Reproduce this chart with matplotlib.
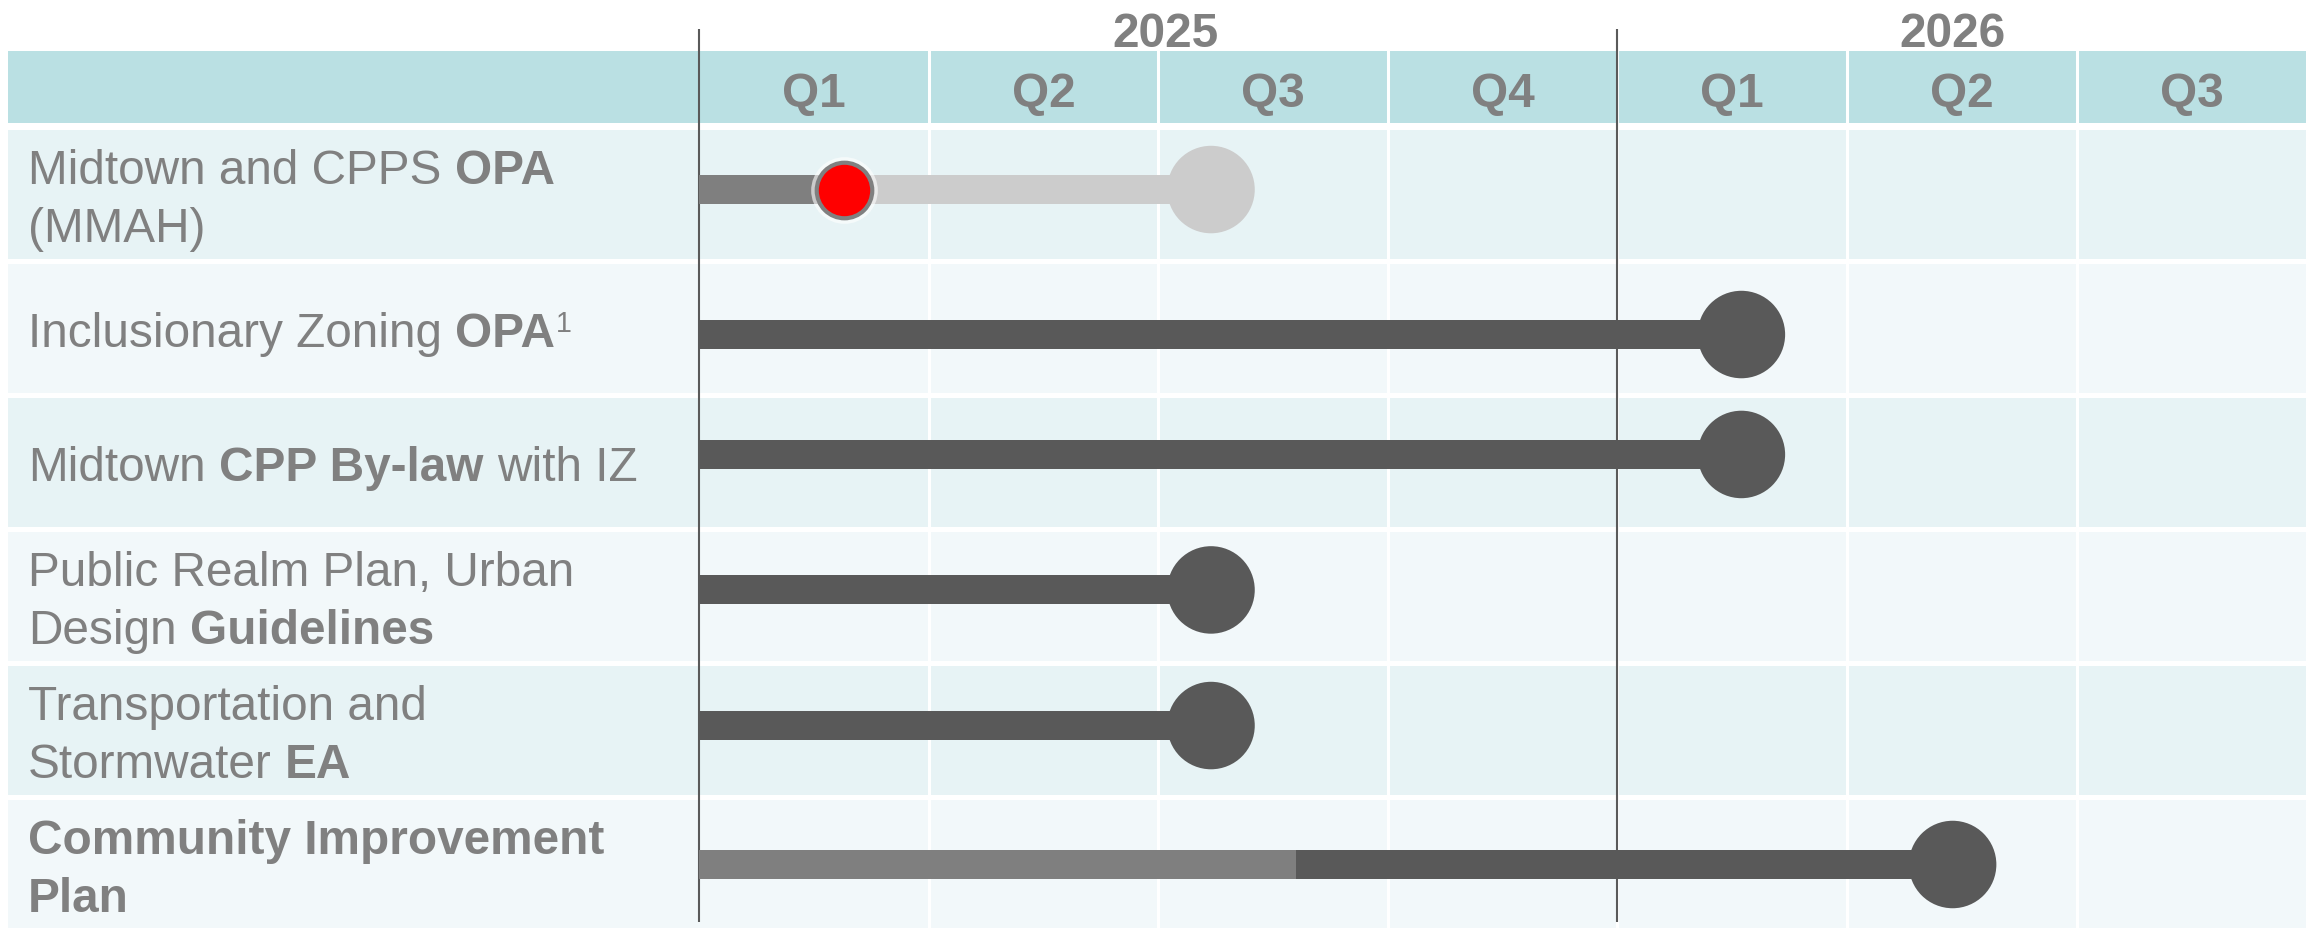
import matplotlib.pyplot as plt
from matplotlib.patches import Rectangle

plt.rcParams["font.family"] = ["Liberation Sans", "DejaVu Sans"]

# ---------------------------------------------------------------------------
# Data (x in quarters counted from the start of 2025 Q1, y = row index)
# ---------------------------------------------------------------------------

quarter_labels = ["Q1", "Q2", "Q3", "Q4", "Q1", "Q2", "Q3"]
year_labels = ["2025", "2026"]
year_label_x = [2.03, 5.46]
year_breaks = [0, 4]

# each row label: list of lines, each line a list of (text, style) pieces
row_labels = [
    [[("Midtown and CPPS", "normal"), (" OPA", "bold")], [("(MMAH)", "normal")]],
    [[("Inclusionary Zoning", "normal"), (" OPA", "bold"), ("1", "sup")]],
    [[("Midtown", "normal"), (" CPP By-law", "bold"), (" with IZ", "normal")]],
    [[("Public Realm Plan, Urban", "normal")],
     [("Design", "normal"), (" Guidelines", "bold")]],
    [[("Transportation and", "normal")],
     [("Stormwater", "normal"), (" EA", "bold")]],
    [[("Community Improvement", "bold")], [("Plan", "bold")]],
]

# vertical position of each row's timeline (rows are not perfectly centred)
track_y = [-0.037, 1.045, 1.94, 2.951, 3.963, 5.0]

# bar segments
seg_row = [0, 0, 1, 2, 3, 4, 5, 5]
seg_start = [0.0, 0.63, 0.0, 0.0, 0.0, 0.0, 0.0, 2.60]
seg_end = [0.63, 2.23, 4.54, 4.54, 2.23, 2.23, 2.60, 5.46]
seg_kind = ["done", "pending", "active", "active", "active", "active", "done", "active"]

# end milestones
end_row = [0, 1, 2, 3, 4, 5]
end_x = [2.23, 4.54, 4.54, 2.23, 2.23, 5.46]
end_kind = ["pending", "active", "active", "active", "active", "active"]

# current position marker
now_row = 0
now_x = 0.63

COLORS = {"done": "#7f7f7f", "pending": "#cccccc", "active": "#595959"}
TEXT = "#808080"
HEADER_BG = "#bae0e3"
ROW_BG = ["#e7f3f5", "#f2f8fa"]

FS = 34.4
SPACE_PX = 0.278 * FS * 100 / 72


def draw_line(ax, x, y, pieces):
    prev = None
    for s, style in pieces:
        weight = "bold" if style == "bold" else "normal"
        gap = SPACE_PX if s.startswith(" ") else 1
        s = s.strip()
        if prev is None:
            prev = ax.text(x, y, s, fontsize=FS, color=TEXT, fontweight=weight,
                           ha="left", va="baseline")
        elif style == "sup":
            prev = ax.annotate(s, xy=(1, y), xycoords=(prev, "data"),
                               xytext=(0, 15), textcoords="offset pixels",
                               fontsize=FS * 0.6, color=TEXT,
                               ha="left", va="baseline")
        else:
            prev = ax.annotate(s, xy=(1, y), xycoords=(prev, "data"),
                               xytext=(gap, 0), textcoords="offset pixels",
                               fontsize=FS, color=TEXT, fontweight=weight,
                               ha="left", va="baseline")


fig = plt.figure(figsize=(23.13, 9.29), dpi=100)
ax = fig.add_axes([0, 0, 1, 1])
ax.set_xlim(-699 / 229.6, (2313 - 699) / 229.6)
ax.set_ylim((929 - 195.5) / 134, -195.5 / 134)
ax.axis("off")

n_q = len(quarter_labels)
left = -3.01
half = 0.485

# header band
ax.add_patch(Rectangle((left, -1.071), n_q - left, 0.537, color=HEADER_BG, lw=0, zorder=0))
# row bands
for i in range(len(row_labels)):
    ax.add_patch(Rectangle((left, i - half), n_q - left, 2 * half,
                           color=ROW_BG[i % 2], lw=0, zorder=0))

# white column separators
ax.vlines(range(1, n_q), -1.1, 5.5, color="white", lw=2.2, zorder=1)

# year boundaries
ax.vlines(year_breaks, -1.235, 5.43, color="#5a5a5a", lw=1.5, zorder=2)

# header text
for i, q in enumerate(quarter_labels):
    ax.text(i + 0.5, -0.66, q, fontsize=FS, fontweight="bold", color=TEXT,
            ha="center", va="baseline", zorder=3)
for x, yl in zip(year_label_x, year_labels):
    ax.text(x, -1.108, yl, fontsize=FS, fontweight="bold", color=TEXT,
            ha="center", va="baseline", zorder=3)

# row labels
for i, lines in enumerate(row_labels):
    if len(lines) == 1:
        baselines = [i + 0.13]
    else:
        baselines = [i - 0.086, i + 0.347]
    for yb, pieces in zip(baselines, lines):
        draw_line(ax, -2.922, yb, pieces)

# bars
for r, s, e, k in zip(seg_row, seg_start, seg_end, seg_kind):
    ax.barh(track_y[r], e - s, left=s, height=0.216, color=COLORS[k], lw=0, zorder=4)

# milestones
ax.scatter(end_x, [track_y[r] for r in end_row], s=63 ** 2,
           c=[COLORS[k] for k in end_kind], linewidths=0, zorder=5)

# current position
ax.scatter([now_x], [track_y[now_row]], s=48 ** 2, c="white", alpha=0.6,
           linewidths=0, zorder=5)
ax.scatter([now_x], [track_y[now_row]], s=40 ** 2, c="#ff0000", edgecolors="#808080",
           linewidths=3, zorder=6)

fig.savefig("out.png", dpi=100)
